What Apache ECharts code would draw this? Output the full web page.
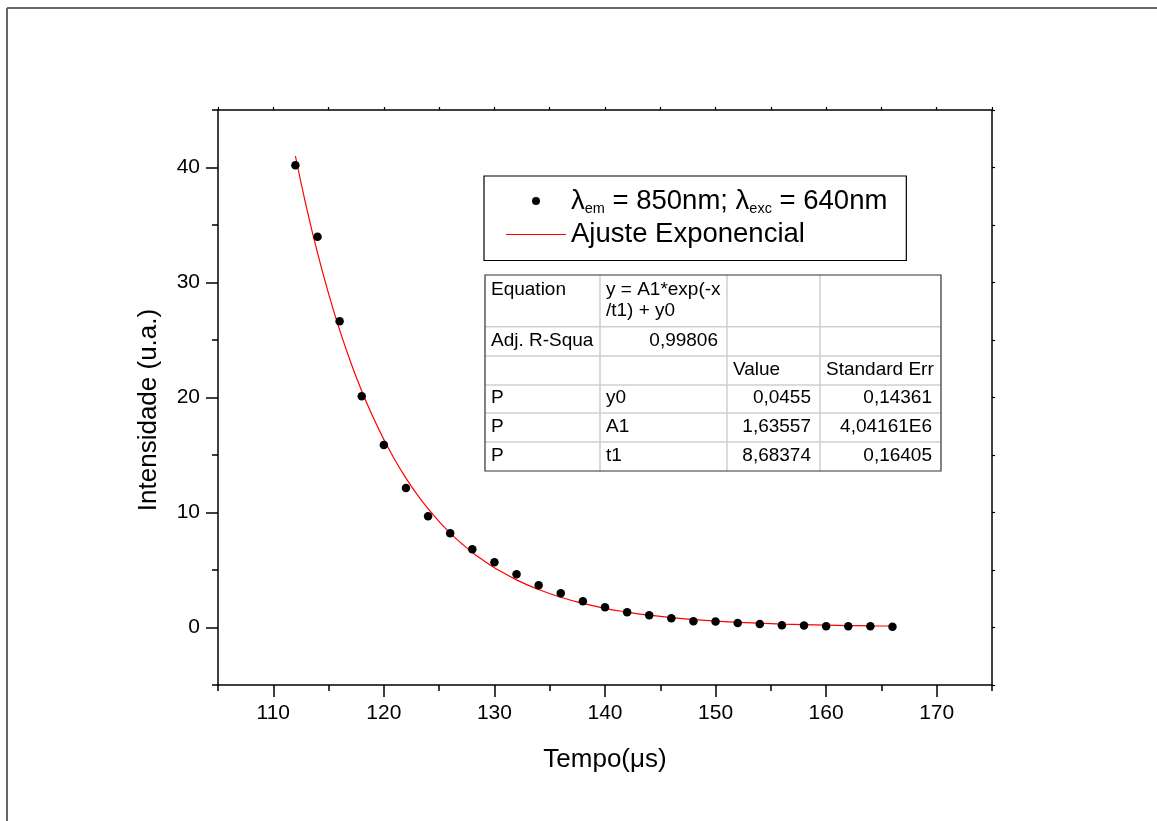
<!DOCTYPE html>
<html>
<head>
<meta charset="utf-8">
<script src="https://cdn.jsdelivr.net/npm/echarts@6/dist/echarts.min.js"></script>
<style>
html,body{margin:0;padding:0;background:#fff;}
#chart{width:1157px;height:821px;}
</style>
</head>
<body>
<div id="chart"></div>
<script>
// ---- data ----
const dataX = [112,114,116,118,120,122,124,126,128,130,132,134,136,138,140,142,144,146,148,150,152,154,156,158,160,162,164,166];
const dataY = [40.2,33.97,26.63,20.11,15.88,12.13,9.68,8.2,6.8,5.68,4.64,3.68,2.98,2.29,1.77,1.33,1.07,0.81,0.55,0.52,0.40,0.31,0.20,0.17,0.11,0.11,0.11,0.06];
const fitX = [112,113,114,115,116,117,118,119,120,121,122,123,124,125,126,127,128,129,130,132,134,136,138,140,142,144,146,148,150,152,154,156,158,160,162,164,166];
const fitY = [41.00,36.54,32.57,29.04,25.88,23.07,20.57,18.34,16.35,14.57,12.99,11.58,10.33,9.21,8.21,7.33,6.53,5.83,5.20,4.14,3.30,2.63,2.10,1.67,1.34,1.07,0.86,0.69,0.56,0.45,0.37,0.30,0.25,0.21,0.17,0.15,0.13];
const xMajor = [110,120,130,140,150,160,170];
const xMinor = [105,115,125,135,145,155,165,175];
const yMajor = [0,10,20,30,40];
const yMinor = [-5,5,15,25,35,45];
const seriesNames = ['λem = 850nm; λexc = 640nm', 'Ajuste Exponencial'];
const xName = 'Tempo(μs)';
const yName = 'Intensidade (u.a.)';
const tableCells = [
  ['Equation', 'y = A1*exp(-x\n/t1) + y0', '', ''],
  ['Adj. R-Squa', '0,99806', '', ''],
  ['', '', 'Value', 'Standard Err'],
  ['P', 'y0', '0,0455', '0,14361'],
  ['P', 'A1', '1,63557', '4,04161E6'],
  ['P', 't1', '8,68374', '0,16405']
];

// ---- layout ----
const FONT = '"Liberation Sans", Arial, sans-serif';
const chart = echarts.init(document.getElementById('chart'), null, {renderer: 'canvas'});
const pts = dataX.map((x, i) => [x, dataY[i]]);
const fitPts = fitX.map((x, i) => [x, fitY[i]]);

const colX = [485, 600, 727, 820, 941];
const rowY = [275, 326.7, 356, 385, 413, 442, 471];
const graphics = [];
// outer page frame (top + left)
graphics.push({type: 'line', shape: {x1: 7, y1: 8, x2: 1157, y2: 8}, style: {stroke: '#666', lineWidth: 2}});
graphics.push({type: 'line', shape: {x1: 7, y1: 8, x2: 7, y2: 821}, style: {stroke: '#666', lineWidth: 2}});
// table
graphics.push({type: 'rect', shape: {x: colX[0], y: rowY[0], width: colX[4] - colX[0], height: rowY[6] - rowY[0]}, style: {fill: '#fff', stroke: 'none'}, z: 10});
for (let i = 1; i < rowY.length - 1; i++) {
  graphics.push({type: 'line', shape: {x1: colX[0], y1: rowY[i], x2: colX[4], y2: rowY[i]}, style: {stroke: '#cfcfcf', lineWidth: 1.5}, z: 11});
}
for (let j = 1; j < colX.length - 1; j++) {
  graphics.push({type: 'line', shape: {x1: colX[j], y1: rowY[0], x2: colX[j], y2: rowY[6]}, style: {stroke: '#cfcfcf', lineWidth: 1.5}, z: 11});
}
graphics.push({type: 'rect', shape: {x: colX[0], y: rowY[0], width: colX[4] - colX[0], height: rowY[6] - rowY[0]}, style: {fill: 'none', stroke: '#333', lineWidth: 1.2}, z: 12});
tableCells.forEach((row, r) => {
  row.forEach((txt, c) => {
    if (!txt) return;
    const numeric = /^[0-9,E.]+$/.test(txt);
    const x = numeric ? colX[c + 1] - 9 : colX[c] + 6;
    const multi = r === 0;
    graphics.push({
      type: 'text', z: 13,
      style: {
        x: x,
        y: multi ? rowY[r] + 4 : (rowY[r] + rowY[r + 1]) / 2 - 1,
        text: txt,
        fill: '#000',
        font: '19px ' + FONT,
        lineHeight: 21,
        textAlign: numeric ? 'right' : 'left',
        textVerticalAlign: multi ? 'top' : 'middle'
      }
    });
  });
});

const axisLineStyle = {color: '#000', width: 1.5};
const option = {
  backgroundColor: '#fff',
  animation: false,
  textStyle: {fontFamily: FONT},
  grid: {left: 218, right: 165, top: 110, bottom: 136, containLabel: false},
  legend: {
    orient: 'vertical',
    left: 484, top: 176,
    data: [
      {name: seriesNames[0], icon: 'circle'},
      {name: seriesNames[1], icon: 'path://M0,0L60,0L60,1.2L0,1.2Z'}
    ],
    selectedMode: false,
    itemWidth: 60, itemHeight: 8, itemGap: 4,
    padding: [11, 19, 12, 22],
    borderColor: '#000', borderWidth: 1.2,
    backgroundColor: '#fff',
    formatter: function (name) {
      if (name === seriesNames[0]) return '{t|λ}{s|em}{t| = 850nm; λ}{s|exc}{t| = 640nm}';
      return '{t|' + name + '}';
    },
    textStyle: {
      color: '#000', fontSize: 27.5, fontFamily: FONT,
      rich: {
        t: {fontSize: 27.5, lineHeight: 31, fontFamily: FONT, color: '#000'},
        s: {fontSize: 14.5, lineHeight: 8, verticalAlign: 'bottom', fontFamily: FONT, color: '#000'}
      }
    }
  },
  xAxis: [
    {
      type: 'value', min: 105, max: 175, position: 'bottom',
      axisLine: {show: true, onZero: false, lineStyle: axisLineStyle},
      axisTick: {show: true, customValues: xMajor, length: 12, inside: false, lineStyle: {color: '#000', width: 1.5}},
      axisLabel: {show: true, customValues: xMajor, fontSize: 21, margin: 18, color: '#000', fontFamily: FONT},
      splitLine: {show: false},
      name: xName, nameLocation: 'middle', nameGap: 62,
      nameTextStyle: {fontSize: 26, color: '#000', fontFamily: FONT}
    },
    {
      type: 'value', min: 105, max: 175, position: 'bottom',
      axisLine: {show: false, onZero: false},
      axisTick: {show: true, customValues: xMinor, length: 6, inside: false, lineStyle: {color: '#000', width: 1.5}},
      axisLabel: {show: false},
      splitLine: {show: false}
    },
    {
      type: 'value', min: 105, max: 175, position: 'top',
      axisLine: {show: true, onZero: false, lineStyle: axisLineStyle},
      axisTick: {show: true, customValues: xMajor.concat(xMinor), length: 3, inside: false, lineStyle: {color: '#000', width: 1.2}},
      axisLabel: {show: false},
      splitLine: {show: false}
    }
  ],
  yAxis: [
    {
      type: 'value', min: -5, max: 45, position: 'left',
      axisLine: {show: true, onZero: false, lineStyle: axisLineStyle},
      axisTick: {show: true, customValues: yMajor, length: 12, inside: false, lineStyle: {color: '#000', width: 1.5}},
      axisLabel: {show: true, customValues: yMajor, fontSize: 21, margin: 18, color: '#000', fontFamily: FONT},
      splitLine: {show: false},
      name: yName, nameLocation: 'middle', nameGap: 56,
      nameTextStyle: {fontSize: 26, color: '#000', fontFamily: FONT, padding: [0, 25, 0, 0]}
    },
    {
      type: 'value', min: -5, max: 45, position: 'left',
      axisLine: {show: false, onZero: false},
      axisTick: {show: true, customValues: yMinor, length: 6, inside: false, lineStyle: {color: '#000', width: 1.5}},
      axisLabel: {show: false},
      splitLine: {show: false}
    },
    {
      type: 'value', min: -5, max: 45, position: 'right',
      axisLine: {show: true, onZero: false, lineStyle: axisLineStyle},
      axisTick: {show: true, customValues: yMajor.concat(yMinor), length: 3, inside: false, lineStyle: {color: '#000', width: 1.2}},
      axisLabel: {show: false},
      splitLine: {show: false}
    }
  ],
  series: [
    {
      name: seriesNames[1], type: 'line', xAxisIndex: 0, yAxisIndex: 0,
      data: fitPts, smooth: true, symbol: 'none', showSymbol: false,
      lineStyle: {color: '#ff0000', width: 1.2}, itemStyle: {color: '#ff0000'}, z: 2
    },
    {
      name: seriesNames[0], type: 'scatter', xAxisIndex: 0, yAxisIndex: 0,
      data: pts, symbol: 'circle', symbolSize: 8.5,
      itemStyle: {color: '#000', opacity: 1}, z: 3
    }
  ],
  graphic: graphics
};
chart.setOption(option);
</script>
</body>
</html>
